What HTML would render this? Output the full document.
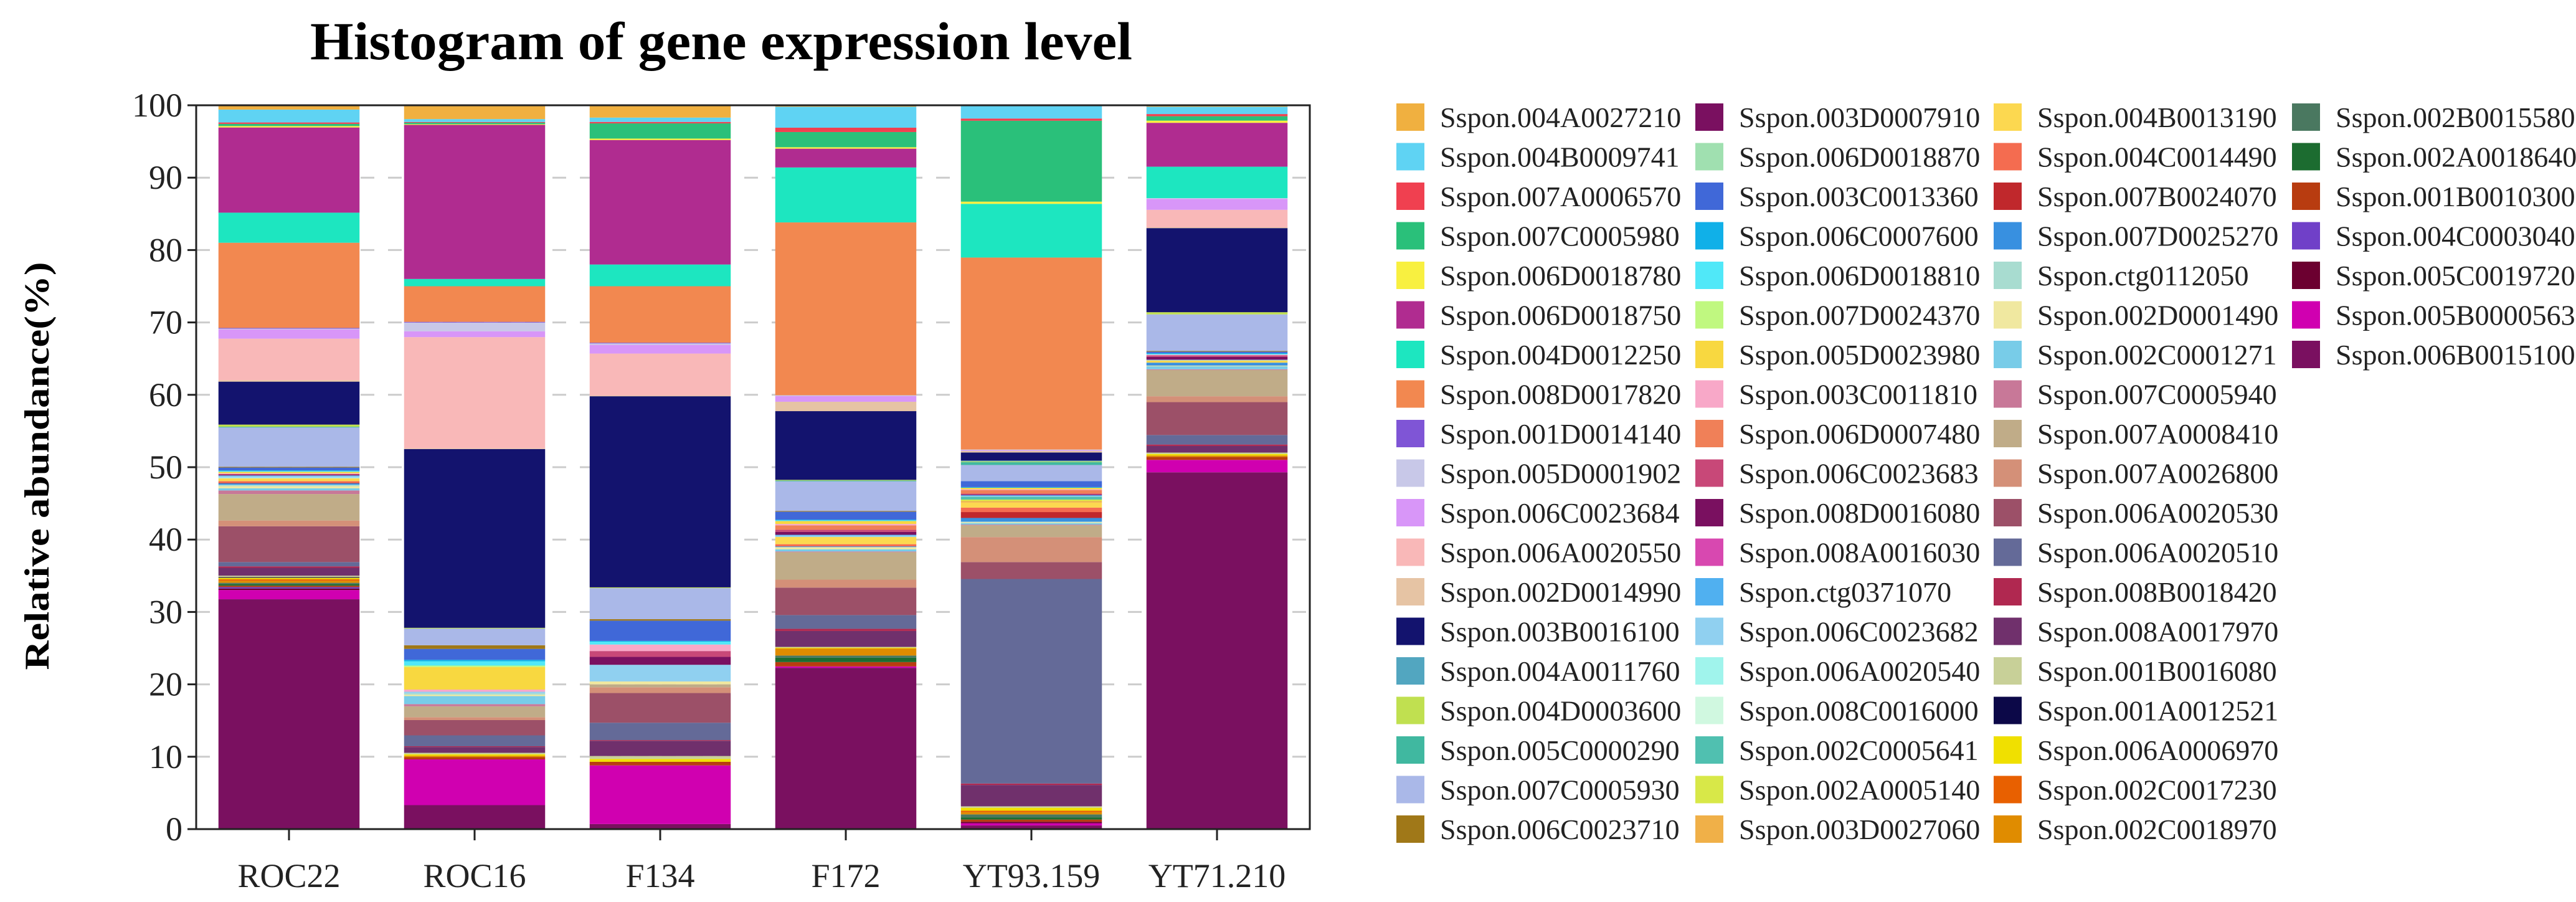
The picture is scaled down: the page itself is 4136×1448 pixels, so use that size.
<!DOCTYPE html>
<html><head><meta charset="utf-8"><style>
html,body{margin:0;padding:0;background:#fff;}
svg{display:block;font-family:"Liberation Serif",serif;}
</style></head><body>
<svg id="chart" width="4136" height="1448" viewBox="0 0 4136 1448" xmlns="http://www.w3.org/2000/svg">
<text x="1158" y="95" font-size="86" font-weight="bold" text-anchor="middle" textLength="1320" lengthAdjust="spacingAndGlyphs">Histogram of gene expression level</text>
<text transform="translate(78,748) rotate(-90)" font-size="56" font-weight="bold" text-anchor="middle" textLength="655" lengthAdjust="spacingAndGlyphs">Relative abundance(%)</text>
<g id="grid"></g><g id="bars"></g><g id="axes"></g><g id="legend"></g>
</svg>
<script>
const categories = ["ROC22","ROC16","F134","F172","YT93.159","YT71.210"];
const yTicks = [0,10,20,30,40,50,60,70,80,90,100];
const seriesNames = ["Sspon.004A0027210","Sspon.004B0009741","Sspon.007A0006570","Sspon.007C0005980","Sspon.006D0018780","Sspon.006D0018750","Sspon.004D0012250","Sspon.008D0017820","Sspon.001D0014140","Sspon.005D0001902","Sspon.006C0023684","Sspon.006A0020550","Sspon.002D0014990","Sspon.003B0016100","Sspon.004A0011760","Sspon.004D0003600","Sspon.005C0000290","Sspon.007C0005930","Sspon.006C0023710",
"Sspon.003D0007910","Sspon.006D0018870","Sspon.003C0013360","Sspon.006C0007600","Sspon.006D0018810","Sspon.007D0024370","Sspon.005D0023980","Sspon.003C0011810","Sspon.006D0007480","Sspon.006C0023683","Sspon.008D0016080","Sspon.008A0016030","Sspon.ctg0371070","Sspon.006C0023682","Sspon.006A0020540","Sspon.008C0016000","Sspon.002C0005641","Sspon.002A0005140","Sspon.003D0027060",
"Sspon.004B0013190","Sspon.004C0014490","Sspon.007B0024070","Sspon.007D0025270","Sspon.ctg0112050","Sspon.002D0001490","Sspon.002C0001271","Sspon.007C0005940","Sspon.007A0008410","Sspon.007A0026800","Sspon.006A0020530","Sspon.006A0020510","Sspon.008B0018420","Sspon.008A0017970","Sspon.001B0016080","Sspon.001A0012521","Sspon.006A0006970","Sspon.002C0017230","Sspon.002C0018970",
"Sspon.002B0015580","Sspon.002A0018640","Sspon.001B0010300","Sspon.004C0003040","Sspon.005C0019720","Sspon.005B0000563","Sspon.006B0015100"];
const seriesColors = ["#f0b040","#5fd3f3","#f04050","#2ac07a","#f8f040","#b02c90","#1de6c0","#f28850","#7f55d6","#c8c8e8","#d896f8","#f9b8b8","#e6c4a4","#13136e","#52a6c0","#c0e050","#40b8a0","#aab8e8","#a07818",
"#7a1060","#a0e0b0","#4068d8","#10b0e8","#50e8f8","#c0f880","#f8d840","#f8a8c8","#f08058","#c84878","#7a1060","#d848b0","#50b0f0","#90d0f0","#a0f4ec","#d0f8e0","#50c0b0","#d8e848","#f0b048",
"#fcd850","#f46c50","#c0282c","#3890e0","#a8dcd0","#f0e8a0","#78cce8","#c87898","#c0ac88","#d49078","#9c5068","#646a98","#b02850","#70306c","#c8d098","#0c0848","#f0e000","#e86000","#e08c00",
"#4a7860","#1c6c30","#b83c10","#7040c8","#6c0030","#d000b0","#7a1060"];
const values = [
[0.6,1.9,1.7,0.2,0,0.2],[1.8,0.4,0.6,2.9,1.8,1.0],[0.2,0.1,0.2,0.6,0.3,0.3],[0.3,0.2,2.1,2.1,11.0,0.6],[0.2,0.1,0.2,0.2,0.3,0.3],
[11.9,21.2,17.2,2.6,0,6.0],[4.2,1.0,3.0,7.6,7.3,4.3],[11.9,4.9,7.8,23.9,26.1,0],[0.1,0.1,0.1,0,0,0],[0.1,1.2,0.2,0.1,0.1,0.1],
[1.3,0.8,1.2,0.8,0.1,1.5],[5.8,15.3,5.8,0,0,2.4],[0.2,0.1,0.1,1.3,0.2,0.1],[6.0,24.6,26.4,9.5,1.1,11.5],[0,0,0,0,0.1,0],
[0.3,0.1,0.1,0.1,0.1,0.3],[0.1,0,0,0.1,0.4,0],[5.5,2.3,4.3,4.1,2.2,5.0],[0.1,0.5,0.2,0.1,0,0.1],
[0,0,0,0,0,0],[0,0,0,0,0,0],[0.4,1.5,2.8,1.1,0.8,0.2],[0.1,0.2,0.1,0.1,0.1,0.1],[0.1,0.6,0.4,0.1,0,0.1],[0,0.2,0,0,0,0],
[0.2,3.1,0,0.4,0.2,0],[0.1,0.3,0.9,0.2,0.1,0.1],[0,0,0,0.6,0.5,0],[0.1,0,0.8,0.3,0.1,0.2],[0.1,0,1.1,0.4,0.1,0.4],
[0,0,0,0,0,0],[0.1,0,0,0.1,0.1,0],[0.2,0.2,2.3,0.2,0.1,0.1],[0.1,0,0,0,0,0],[0,0,0,0,0,0],[0,0,0,0,0.4,0],[0,0,0,0,0.2,0],[0,0,0,0,0.2,0],
[0.4,0,0,1.0,0.7,0.3],[0.2,0,0,0.3,0.6,0],[0.1,0,0,0,0.8,0],[0.2,0,0,0.1,0.5,0.4],[0.2,0.2,0,0,0.1,0],[0.3,0.2,0.4,0.3,0.1,0.1],
[0.3,1.1,0,0.3,0.2,0.4],[0.5,0.3,0,0.1,0.1,0.1],[3.7,1.5,0.4,3.8,1.6,3.6],[0.8,0.4,0.8,1.1,3.4,0.8],[5.0,2.1,4.1,3.8,2.3,4.5],
[0.6,1.5,2.4,1.9,27.8,1.3],[0.2,0.1,0.1,0.3,0.2,0.2],[1.1,0.8,2.1,2.2,2.9,0.9],[0.2,0.2,0.4,0.1,0.2,0.2],[0.1,0,0,0,0,0],
[0.2,0.2,0.4,0.1,0.4,0.2],[0.2,0,0,0,0.2,0],[0.3,0.2,0,1.0,0.3,0.2],
[0.2,0,0,0.3,0.4,0],[0.2,0,0,0.6,0.3,0],[0.2,0.3,0.5,0.6,0.3,0.4],[0.2,0,0,0,0,0],[0.2,0,0,0,0.2,0],[1.3,6.3,8.1,0.2,0.3,1.7],[32.1,3.3,0.7,22.3,0.5,48.8]
];

const NS = "http://www.w3.org/2000/svg";
const plot = {left:315, right:2103, top:169, bottom:1331};
const band = (plot.right - plot.left) / categories.length;
const barW = band * 0.76;
function xCenter(i){ return plot.left + band * (i + 0.5); }
function yScale(v){ return plot.bottom - (v / 100) * (plot.bottom - plot.top); }
function mk(tag, attrs, parent){ const e = document.createElementNS(NS, tag); for (const k in attrs) e.setAttribute(k, attrs[k]); parent.appendChild(e); return e; }

const grid = document.getElementById('grid');
const bars = document.getElementById('bars');
const axes = document.getElementById('axes');
const legend = document.getElementById('legend');

yTicks.forEach(t => {
  if (t > 0 && t < 100) {
    const g = mk('line', {x1:plot.left, x2:plot.right, y1:yScale(t), y2:yScale(t), stroke:'#cccccc', 'stroke-width':3, 'stroke-dasharray':'22,22'}, grid);
    
    
  }
  const tk = mk('line', {x1:plot.left - 14, x2:plot.left, y1:yScale(t), y2:yScale(t), stroke:'#222', 'stroke-width':3}, axes);
  
  
  const lb = mk('text', {x:plot.left - 22, y:yScale(t) + 18, 'font-size':54, 'text-anchor':'end', fill:'#222'}, axes);
  lb.textContent = t;
  
  
});

categories.forEach((c, i) => {
  const total = values.reduce((s, arr) => s + arr[i], 0);
  let cum = 0;
  for (let s = values.length - 1; s >= 0; s--) {
    const v = values[s][i] / total * 100;
    if (v <= 0) continue;
    const r = mk('rect', {x:xCenter(i) - barW/2, y:yScale(cum + v), width:barW, height:yScale(cum) - yScale(cum + v), fill:seriesColors[s]}, bars);
    
    
    cum += v;
  }
  const tk = mk('line', {x1:xCenter(i), x2:xCenter(i), y1:plot.bottom, y2:plot.bottom + 18, stroke:'#222', 'stroke-width':3}, axes);
  
  
  const lb = mk('text', {x:xCenter(i), y:1424, 'font-size':54, 'text-anchor':'middle', fill:'#222'}, axes);
  lb.textContent = c;
  
  
});

const frame = mk('rect', {x:plot.left, y:plot.top, width:plot.right - plot.left, height:plot.bottom - plot.top, fill:'none', stroke:'#222', 'stroke-width':3}, axes);



const colX = [2242, 2722, 3201, 3680];
seriesNames.forEach((n, s) => {
  const col = Math.floor(s / 19), row = s % 19;
  const y = 166 + row * 63.5;
  const sw = mk('rect', {x:colX[col], y:y, width:45, height:44, fill:seriesColors[s]}, legend);
  
  
  const t = mk('text', {x:colX[col] + 70, y:y + 38, 'font-size':46, fill:'#222'}, legend);
  t.textContent = n;
  
  
});
</script>
</body></html>
